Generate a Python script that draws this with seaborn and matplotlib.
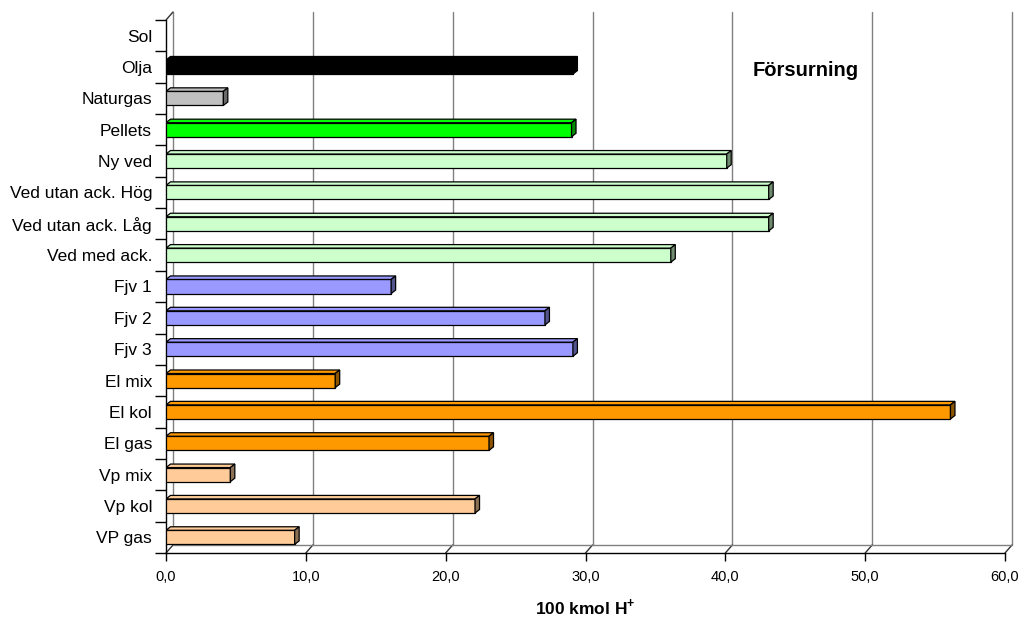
import matplotlib
matplotlib.use("Agg")
import matplotlib.pyplot as plt
import matplotlib.colors as mcolors
from matplotlib.patches import Polygon
import seaborn as sns
import pandas as pd

# data (100 kmol H+)
categories = ["Sol", "Olja", "Naturgas", "Pellets", "Ny ved", "Ved utan ack. Hög",
              "Ved utan ack. Låg", "Ved med ack.", "Fjv 1", "Fjv 2", "Fjv 3",
              "El mix", "El kol", "El gas", "Vp mix", "Vp kol", "VP gas"]
values = [0, 29.1, 4.1, 29.0, 40.1, 43.1, 43.1, 36.1, 16.1, 27.1, 29.1,
          12.1, 56.1, 23.1, 4.6, 22.1, 9.2]
colors = ["#FFFFFF", "#000000", "#C0C0C0", "#00FF00", "#CCFFCC", "#CCFFCC",
          "#CCFFCC", "#CCFFCC", "#9999FF", "#9999FF", "#9999FF",
          "#FF9900", "#FF9900", "#FF9900", "#FFCC99", "#FFCC99", "#FFCC99"]
xticks = [0, 10, 20, 30, 40, 50, 60]

df = pd.DataFrame({"kategori": categories, "varde": values})

sns.set_style("white")
plt.rcParams["font.family"] = ["Liberation Sans", "DejaVu Sans"]
plt.rcParams["text.color"] = "black"
plt.rcParams["xtick.color"] = "black"
plt.rcParams["ytick.color"] = "black"
plt.rcParams["axes.labelcolor"] = "black"
plt.rcParams["mathtext.fontset"] = "custom"
plt.rcParams["mathtext.rm"] = "Liberation Sans"
plt.rcParams["mathtext.bf"] = "Liberation Sans:bold"

fig = plt.figure(figsize=(10.21, 6.19), dpi=100)
ax = fig.add_axes([166 / 1021, 1 - 553 / 619, (1005 - 166) / 1021, (553 - 20) / 619])

sns.barplot(data=df, x="varde", y="kategori", hue="kategori", palette=colors,
            legend=False, orient="h", width=0.45, edgecolor="black",
            linewidth=0.9, saturation=1, ax=ax, zorder=3)

ax.set_xlim(0, 60)
ax.set_ylim(16.5, -0.5)

# pseudo 3d depth (in data units)
dx = 7 * 60 / 839
dy = 8 * 17 / 533
bdx = 4.5 * 60 / 839
bdy = 3.5 * 17 / 533

# back wall and floor
gc = "#808080"
for x in xticks:
    ax.plot([x + dx, x + dx], [16.5 - dy, -0.5 - dy], color=gc, lw=1,
            clip_on=False, zorder=1)
    ax.plot([x, x + dx], [16.5, 16.5 - dy], color="#333333", lw=1,
            clip_on=False, zorder=1)
ax.plot([dx, 60 + dx], [16.5 - dy, 16.5 - dy], color=gc, lw=1, clip_on=False, zorder=1)
ax.plot([0, dx], [-0.5, -0.5 - dy], color="#333333", lw=1, clip_on=False, zorder=1)

# bar top and end faces
for p in ax.patches:
    w = p.get_width()
    if w <= 0:
        p.set_visible(False)
        continue
    x0, y0, h = p.get_x(), p.get_y(), p.get_height()
    yt = min(y0, y0 + h)
    yb = max(y0, y0 + h)
    fc = mcolors.to_rgb(p.get_facecolor())
    dark = tuple(c * 0.55 for c in fc)
    top = Polygon([(x0, yt), (x0 + w, yt), (x0 + w + bdx, yt - bdy), (x0 + bdx, yt - bdy)],
                  closed=True, facecolor=fc, edgecolor="black", lw=0.9, zorder=3)
    end = Polygon([(x0 + w, yt), (x0 + w + bdx, yt - bdy), (x0 + w + bdx, yb - bdy), (x0 + w, yb)],
                  closed=True, facecolor=dark, edgecolor="black", lw=0.9, zorder=3)
    ax.add_patch(top)
    ax.add_patch(end)

sns.despine(ax=ax, top=True, right=True)
ax.spines["left"].set_color("black")
ax.spines["bottom"].set_color("black")
ax.spines["left"].set_linewidth(1)
ax.spines["bottom"].set_linewidth(1)

ax.set_xticks(xticks)
ax.set_xticklabels([f"{t:.1f}".replace(".", ",") for t in xticks], fontsize=10.5)
ax.tick_params(axis="x", length=6, width=1, color="black", bottom=True, pad=6)
ax.set_yticks(range(len(categories)))
ax.set_yticklabels(categories, fontsize=12.5)
ax.tick_params(axis="y", which="major", length=0, pad=10)
ax.set_yticks([i + 0.5 for i in range(-1, len(categories))], minor=True)
ax.tick_params(axis="y", which="minor", length=8, width=1, color="black", left=True)

ax.set_ylabel("")
ax.set_xlabel(r"100 kmol H$^{\mathbf{+}}$", fontsize=12.5, fontweight="bold")
ax.xaxis.set_label_coords(0.5, (553 - 607) / 533)
ax.xaxis.label.set_va("center")

ax.text(0.763, 0.906, "Försurning", transform=ax.transAxes, ha="center",
        va="center", fontsize=14.5, fontweight="bold")

fig.savefig("out.png", dpi=100)
